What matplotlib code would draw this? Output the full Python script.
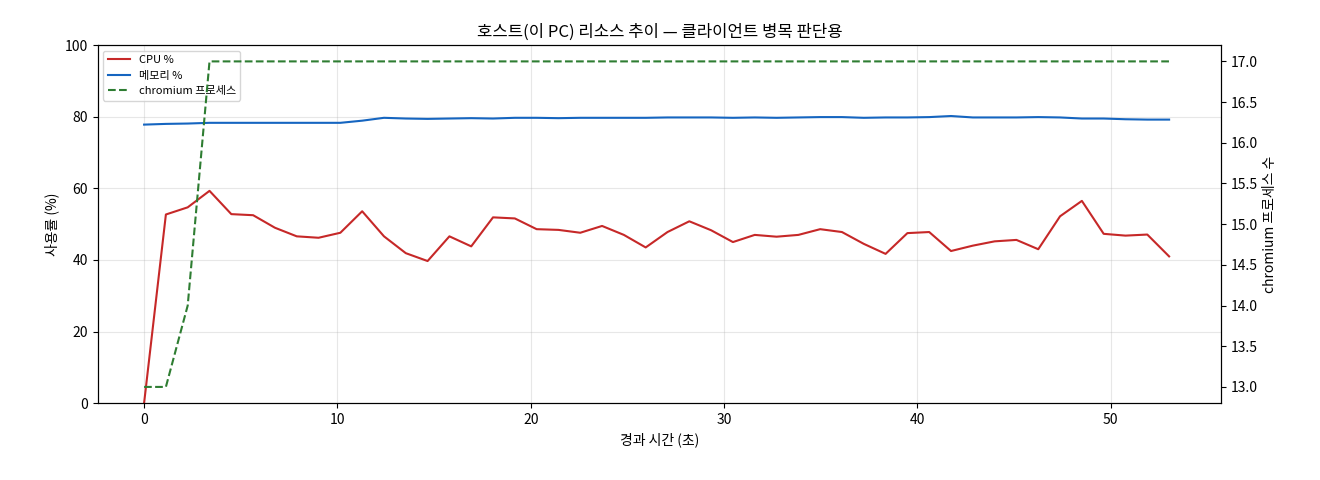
import matplotlib
matplotlib.use("Agg")
import matplotlib.pyplot as plt
import numpy as np

plt.rcParams['font.family'] = ['Noto Sans CJK KR', 'DejaVu Sans']

cpu = [0, 52.7, 54.7, 59.3, 52.8, 52.5, 49, 46.6, 46.2, 47.6, 53.6, 46.6, 41.9, 39.7,
       46.6, 43.8, 51.9, 51.6, 48.6, 48.4, 47.6, 49.5, 47, 43.5, 47.8, 50.8, 48.3, 45,
       47, 46.5, 47, 48.6, 47.8, 44.5, 41.7, 47.5, 47.8, 42.5, 44, 45.2, 45.6, 43,
       52.2, 56.5, 47.3, 46.8, 47.1, 41]
mem = [77.8, 78.0, 78.1, 78.3, 78.3, 78.3, 78.3, 78.3, 78.3, 78.3, 78.9, 79.7, 79.5, 79.4,
       79.5, 79.6, 79.5, 79.7, 79.7, 79.6, 79.7, 79.7, 79.7, 79.7, 79.8, 79.8, 79.8, 79.7,
       79.8, 79.7, 79.8, 79.9, 79.9, 79.7, 79.8, 79.8, 79.9, 80.2, 79.8, 79.8, 79.8, 79.9,
       79.8, 79.5, 79.5, 79.3, 79.2, 79.2]
proc = [13, 13, 14] + [17] * 45
t = [i * 1.128 for i in range(len(cpu))]

fig, ax = plt.subplots(figsize=(13.2, 4.8), dpi=100)
l1, = ax.plot(t, cpu, color='#c62828', lw=1.5, label='CPU %')
l2, = ax.plot(t, mem, color='#1565c0', lw=1.5, label='메모리 %')
ax.set_ylim(0, 100)
ax.set_xlim(-2.4, 55.7)
ax.set_xlabel('경과 시간 (초)')
ax.set_ylabel('사용률 (%)')
ax.grid(alpha=0.3)
ax2 = ax.twinx()
l3, = ax2.plot(t, proc, color='#2e7d32', lw=1.5, ls='--', label='chromium 프로세스')
ax2.set_ylabel('chromium 프로세스 수')
ax2.set_ylim(12.8, 17.2)
ax.set_title('호스트(이 PC) 리소스 추이 — 클라이언트 병목 판단용')
ax.legend(handles=[l1, l2, l3], loc='upper left', fontsize=8)
fig.subplots_adjust(left=0.074, right=0.925, top=0.906, bottom=0.16)
fig.savefig('out.png')
